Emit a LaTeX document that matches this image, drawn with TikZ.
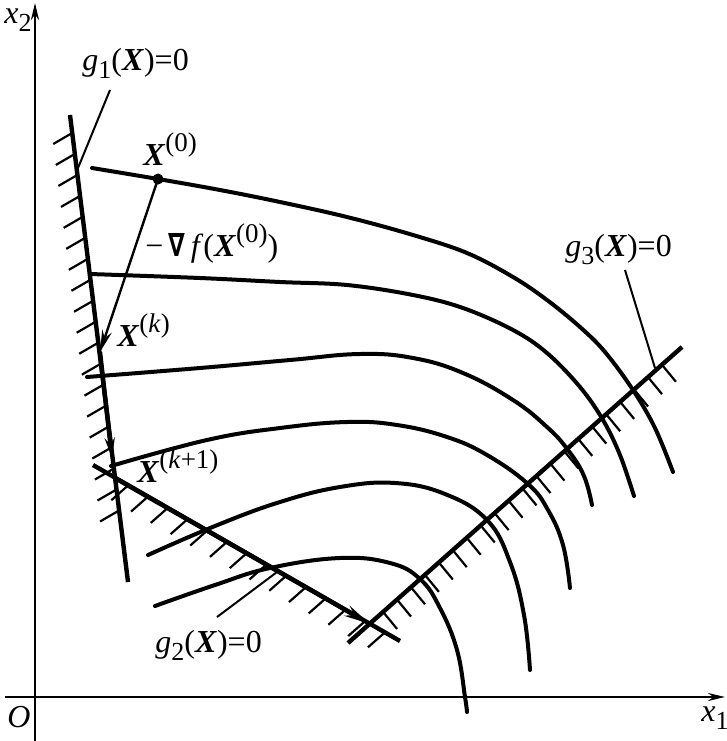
\documentclass[tikz,border=0pt]{standalone}
\usepackage{fontspec}
\setmainfont{Liberation Serif}
\newfontfamily\nablafont{DejaVu Sans}
\usetikzlibrary{arrows.meta,calc}
\newcommand{\vX}{\textbf{\textit{X}}}
\newcommand{\sps}[1]{\raisebox{0.42em}{\fontsize{13.5}{15}\selectfont #1}}
\newcommand{\sbs}[1]{\raisebox{-0.28em}{\fontsize{13}{15}\selectfont #1}}
\begin{document}
\begin{tikzpicture}[x=0.5pt,y=-0.5pt,
  levelcurve/.style={line width=2pt,line join=round,line cap=round},
  cline/.style={line width=2.2pt},
  thinline/.style={line width=1pt},
  hatch/.style={line width=1.1pt},
  axisline/.style={line width=1.3pt,-{Stealth[length=8.5pt,width=4pt]}},
  lbl/.style={inner sep=0pt,anchor=base west,font=\fontsize{16}{19}\selectfont}]
\useasboundingbox (0,0) rectangle (727,741);

% axes
\coordinate (ybot) at (35,741);
\coordinate (ytop) at (35,3);
\coordinate (xleft) at (5,697);
\coordinate (xright) at (725,697);
\draw[axisline] (ybot) -- (ytop);
\draw[axisline] (xleft) -- (xright);
\node[lbl] (lx2) at (4,23) {\textit{x}\sbs{2}};
\node[lbl] (lx1) at (701,721) {\textit{x}\sbs{1}};
\node[lbl] (lO) at (7,727) {\textit{O}};

% level curves
\draw[levelcurve] plot[smooth,tension=0.6] coordinates {(92,168) (158,179) (220,190) (280,202) (347,217) (413,235) (467,253) (513,277) (547,300) (580,327) (605,352) (633,390) (655,428) (673,472)};
\draw[levelcurve] plot[smooth,tension=0.6] coordinates {(90,274) (200,278) (280,282) (347,285) (413,295) (463,308) (513,330) (547,353) (580,387) (603,420) (620,455) (634,496)};
\draw[levelcurve] plot[smooth,tension=0.7] coordinates {(87,377) (200,368) (290,360) (360,354) (413,358) (463,373) (513,400) (547,427) (568,450) (584,476) (592,505)};
\draw[levelcurve] plot[smooth,tension=0.7] coordinates {(111,466) (207,440) (280,428) (347,422) (397,425) (447,437) (487,455) (528,484) (548,510) (563,545) (570,588)};
\draw[levelcurve] plot[smooth,tension=0.7] coordinates {(148,555) (215,526) (280,502) (340,487) (395,483) (445,494) (487,520) (510,562) (524,615) (530,670)};
\draw[levelcurve] plot[smooth,tension=0.7] coordinates {(155,606) (215,585) (270,568) (340,558) (390,563) (420,579) (440,608) (457,650) (465,697) (467,712)};

% constraint lines
\coordinate (g1a) at (70,115);
\coordinate (g1b) at (128,582);
\coordinate (g2a) at (93,465);
\coordinate (g2b) at (400,641);
\coordinate (g3a) at (348,643);
\coordinate (g3b) at (682,347);
\draw[cline] (g1a) -- (g1b);
\draw[cline] (g2a) -- (g2b);
\draw[cline] (g3a) -- (g3b);

% hatches
\foreach \i [evaluate=\i as \t using 0.0385+\i*0.0449] in {0,...,18}
  \draw[hatch] ($(g1a)!\t!(g1b)$) -- ++(-19,11);
\foreach \i [evaluate=\i as \t using 0.115+\i*0.0643] in {0,...,13}
  \draw[hatch] ($(g2a)!\t!(g2b)$) -- ++(-17,15);
\foreach \i [evaluate=\i as \t using 0.105+\i*0.04175] in {0,...,20}
  \draw[hatch] ($(g3a)!\t!(g3b)$) -- ++(14,17);

% points
\coordinate (X0) at (158,179);
\coordinate (Xk) at (100,352);
\coordinate (tipk) at (112,458);
\coordinate (Xk1) at (115,478);
\coordinate (Xend) at (370,624);
\fill (X0) circle (5.5);

% search path arrows
\draw[line width=1.2pt,-{Stealth[length=11pt,width=5pt]}] (X0) -- (Xk);
\draw[line width=2.2pt,-{Stealth[length=10pt,width=5pt]}] (Xk) -- (tipk);
\draw[line width=2.2pt,-{Stealth[length=13pt,width=5.5pt]}] (Xk1) -- (Xend);

% labels
\node[lbl] (lX0) at (143,165) {\vX\sps{(0)}};
\node[lbl] (lgrad) at (145,256) {−\,\scalebox{0.75}[1]{\nablafont\bfseries ∇}\,\textit{f}(\vX\sps{(0)})};
\node[lbl] (lXk) at (117,346) {\vX\sps{(\textit{k})}};
\node[lbl] (lXk1) at (137,482) {\vX\sps{(\textit{k}+1)}};

\node[lbl] (lg1) at (82,70) {\textit{g}\sbs{1}(\vX)=0};
\node[lbl] (lg2) at (155,652) {\textit{g}\sbs{2}(\vX)=0};
\node[lbl] (lg3) at (565,256) {\textit{g}\sbs{3}(\vX)=0};

% leaders
\coordinate (L1a) at (110,90);
\coordinate (L1b) at (78,168);
\coordinate (L2a) at (217,617);
\coordinate (L2b) at (277,572);
\coordinate (L3a) at (625,270);
\coordinate (L3b) at (655,368);
\draw[thinline] (L1a) -- (L1b);
\draw[thinline] (L2a) -- (L2b);
\draw[thinline] (L3a) -- (L3b);
\end{tikzpicture}
\end{document}
